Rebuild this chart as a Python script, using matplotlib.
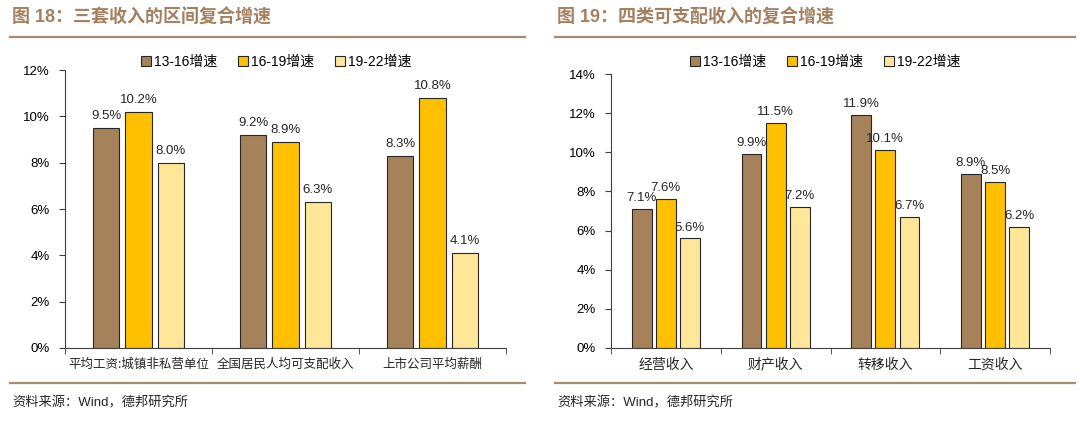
import numpy as np
import matplotlib
matplotlib.use('Agg')
import matplotlib.pyplot as plt
from matplotlib.lines import Line2D
from matplotlib.patches import Patch

plt.rcParams['font.family'] = ['Liberation Sans', 'Noto Sans CJK SC', 'DejaVu Sans']
CJK = ['Noto Sans CJK SC', 'DejaVu Sans']

# data
series_names = ['13-16增速', '16-19增速', '19-22增速']

left_title = '图 18：三套收入的区间复合增速'
left_cats = ['平均工资:城镇非私营单位', '全国居民人均可支配收入', '上市公司平均薪酬']
left_s1 = [9.5, 9.2, 8.3]
left_s2 = [10.2, 8.9, 10.8]
left_s3 = [8.0, 6.3, 4.1]

right_title = '图 19：四类可支配收入的复合增速'
right_cats = ['经营收入', '财产收入', '转移收入', '工资收入']
right_s1 = [7.1, 9.9, 11.9, 8.9]
right_s2 = [7.6, 11.5, 10.1, 8.5]
right_s3 = [5.6, 7.2, 6.7, 6.2]

source = '资料来源：Wind，德邦研究所'

colors = ['#A6825A', '#FFC000', '#FFE699']
edge = '#262626'
brown = '#A47F60'
rule = '#A88A6C'

fig = plt.figure(figsize=(10.8, 4.23), dpi=100)


def panel(rect, cats, series, ymax, cat_fs, legend_x):
    ax = fig.add_axes(rect)
    x = np.arange(len(cats))
    w = 0.18
    off = 0.22
    for i, vals in enumerate(series):
        bars = ax.bar(x + (i - 1) * off, vals, width=w, color=colors[i],
                      edgecolor=edge, linewidth=0.8, label=series_names[i])
        for b, v in zip(bars, vals):
            ax.text(b.get_x() + b.get_width() / 2, v + 0.25, '%.1f%%' % v,
                    ha='center', va='bottom', fontsize=9.5, color='#262626')
    ax.set_xlim(-0.5, len(cats) - 0.5)
    ax.set_ylim(0, ymax)
    ticks = np.arange(0, ymax + 0.1, 2)
    ax.set_yticks(ticks)
    ax.set_yticklabels(['%d%%' % t for t in ticks], fontsize=9.5)
    ax.set_xticks(x)
    ax.set_xticklabels(cats, fontsize=cat_fs, family=CJK, color='#262626')
    ax.set_xticks(np.arange(-0.5, len(cats), 1), minor=True)
    ax.tick_params(axis='x', which='major', length=0, pad=7)
    ax.tick_params(axis='x', which='minor', length=4, direction='out', color='#404040')
    ax.tick_params(axis='y', length=4, direction='out', color='#404040', pad=7)
    for s in ['top', 'right']:
        ax.spines[s].set_visible(False)
    for s in ['left', 'bottom']:
        ax.spines[s].set_color('#404040')
        ax.spines[s].set_linewidth(0.8)
    handles = [Patch(facecolor=colors[i], edgecolor=edge, linewidth=0.8) for i in range(3)]
    fig.legend(handles, series_names, loc='center left',
               bbox_to_anchor=(legend_x, 1 - 62 / 423), ncol=3, frameon=False,
               handlelength=0.75, handleheight=0.75, handletextpad=0.2,
               columnspacing=1.5, prop={'family': ['Liberation Sans', 'Noto Sans CJK SC'], 'size': 10})
    return ax


panel([65 / 1080, 1 - 348 / 423, (506 - 65) / 1080, (348 - 70) / 423],
      left_cats, [left_s1, left_s2, left_s3], 12, 9, 128 / 1080)
panel([611 / 1080, 1 - 348 / 423, (1050 - 611) / 1080, (348 - 74) / 423],
      right_cats, [right_s1, right_s2, right_s3], 14, 10, 677 / 1080)

# titles, rules, sources
for x0, x1, title in [(10, 525, left_title), (555, 1075, right_title)]:
    fig.text(x0 / 1080 + 0.002, 1 - 18 / 423, title, fontsize=13, fontweight='bold',
             color=brown, va='center', ha='left', family=['Liberation Sans', 'Noto Sans CJK SC'])
    fig.add_artist(Line2D([x0 / 1080, x1 / 1080], [1 - 37 / 423] * 2, color=rule, lw=1.6))
    fig.add_artist(Line2D([x0 / 1080, x1 / 1080], [1 - 383 / 423] * 2, color=rule, lw=1.6))
    fig.text(x0 / 1080 + 0.002, 1 - 403 / 423, source, fontsize=9.5, color='#262626',
             va='center', ha='left', family=['Liberation Sans', 'Noto Sans CJK SC'])

fig.savefig('out.png', dpi=100)
